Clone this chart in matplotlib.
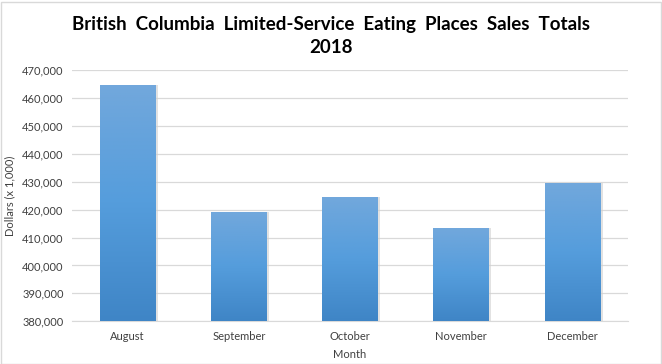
import numpy as np
import matplotlib.pyplot as plt
from matplotlib.colors import LinearSegmentedColormap
from matplotlib.ticker import FuncFormatter

months = ['August', 'September', 'October', 'November', 'December']
sales = [464600, 419100, 424500, 413400, 429500]

plt.rcParams['font.family'] = ['Lato', 'DejaVu Sans']

fig = plt.figure(figsize=(6.62, 3.64), dpi=100)
ax = fig.add_axes([72 / 662, 1 - 321.3 / 364, 556 / 662, 251.3 / 364])

ymin, ymax = 380000, 470000
x = np.arange(len(months))
bars = ax.bar(x, [v - ymin for v in sales], bottom=ymin, width=0.5,
              color='none', edgecolor='none', zorder=3)

# gradient fill clipped to each bar
cmap = LinearSegmentedColormap.from_list('g', ['#3f85c6', '#559ddc', '#72a8dc'])
grad = np.linspace(0, 1, 256).reshape(-1, 1)
for b in bars:
    bx, by = b.get_x(), b.get_y()
    w, h = b.get_width(), b.get_height()
    # soft shadow
    ax.bar(bx + w / 2 + 0.012, h, bottom=by, width=w + 0.02, color='#cfcfcf',
           alpha=0.6, zorder=2)
    im = ax.imshow(grad, extent=[bx, bx + w, by, by + h], origin='lower',
                   cmap=cmap, aspect='auto', zorder=3)
    im.set_clip_path(b)

ax.set_xlim(-0.5, len(months) - 0.5)
ax.set_ylim(ymin, ymax)
ax.set_yticks(np.arange(ymin, ymax + 1, 10000))
ax.yaxis.set_major_formatter(FuncFormatter(lambda v, p: f'{int(v):,}'))
ax.set_xticks(x)
ax.set_xticklabels(months)
ax.grid(axis='y', color='#d9d9d9', linewidth=0.9, zorder=0)
ax.set_axisbelow(True)
for s in ['left', 'right', 'top']:
    ax.spines[s].set_visible(False)
ax.spines['bottom'].set_color('#d9d9d9')
ax.tick_params(axis='both', length=0, labelsize=8, colors='#404040', pad=6)
ax.tick_params(axis='x', pad=7)

fig.text(10 / 662, 1 - 196 / 364, 'Dollars (x 1,000)', rotation=90, fontsize=8,
         color='#404040', ha='center', va='center')
fig.text((72 + 556 / 2) / 662, 1 - 354.5 / 364, 'Month', fontsize=8,
         color='#404040', ha='center', va='center')
fig.text(0.5, 1 - 36 / 364, 'British  Columbia  Limited-Service  Eating  Places  Sales  Totals\n2018',
         fontsize=13.5, fontweight='bold', ha='center', va='center',
         linespacing=1.45, color='black')

fig.patches.append(plt.Rectangle((0.5 / 662, 0.5 / 364), 660 / 662, 362 / 364,
                                 transform=fig.transFigure, fill=False,
                                 edgecolor='#d9d9d9', linewidth=1))

fig.savefig('out.png', dpi=100)
